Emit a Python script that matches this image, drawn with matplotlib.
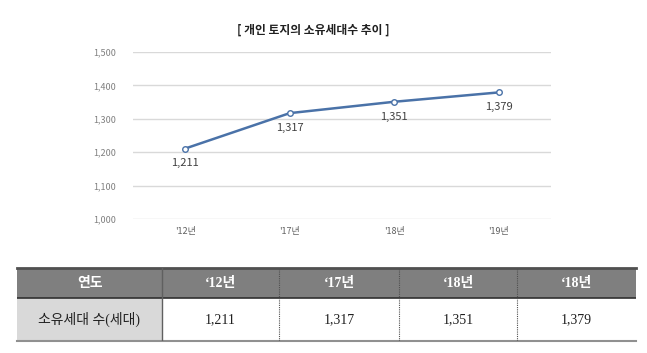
import matplotlib.pyplot as plt

plt.rcParams['font.family'] = ['Noto Sans CJK KR', 'DejaVu Sans']

# 데이터
years = ["'12년", "'17년", "'18년", "'19년"]
households = [1211, 1317, 1351, 1379]
yticks = [1000, 1100, 1200, 1300, 1400, 1500]

table_header = ["연도", "‘12년", "‘17년", "‘18년", "‘18년"]
table_row = ["소유세대 수(세대)", "1,211", "1,317", "1,351", "1,379"]
col_widths = [145, 117, 120, 118, 119]

fig = plt.figure(figsize=(6.47, 3.53), dpi=100)

# 선 그래프
ax = fig.add_axes([133 / 647, 1 - 219 / 353, 418 / 647, 167 / 353])
x = range(len(years))
ax.plot(x, households, '-', color='#4a72a8', lw=1.8, marker='o', ms=4,
        mfc='white', mec='#4a72a8', mew=1, zorder=3)
for i, v in zip(x, households):
    ax.annotate(f"{v:,}", (i, v), xytext=(0, -7), textcoords='offset points',
                ha='center', va='top', fontsize=8, color='#404040')
ax.set_xlim(-0.5, len(years) - 0.5)
ax.set_ylim(1000, 1500)
ax.set_yticks(yticks)
ax.set_yticklabels([f"{t:,}" for t in yticks], fontsize=6.5, color='#808080')
ax.set_xticks(list(x))
ax.set_xticklabels(years, fontsize=6.5, color='#606060')
ax.tick_params(length=0, pad=12)
ax.tick_params(axis='x', pad=6)
ax.grid(axis='y', color='#d9d9d9', lw=1)
for s in ax.spines.values():
    s.set_visible(False)
ax.set_axisbelow(True)

fig.text(313 / 647, 1 - 30 / 353, "[ 개인 토지의 소유세대수 추이 ]", ha='center',
         va='center', fontsize=8.5, fontweight='bold', color='#202020')

# 표
tax = fig.add_axes([17 / 647, 1 - 341 / 353, 619 / 647, 73 / 353])
total = sum(col_widths)
tax.set_xlim(0, total)
tax.set_ylim(0, 73)
tax.axis('off')
tbl = tax.table(cellText=[table_header, table_row],
                colWidths=[w / total for w in col_widths],
                cellLoc='center', bbox=[0, 0, 1, 1])
tbl.auto_set_font_size(False)
for (r, c), cell in tbl.get_celld().items():
    cell.set_height(30 if r == 0 else 43)
    cell.set_linewidth(0)
    txt = cell.get_text()
    txt.set_fontfamily(['Liberation Serif', 'Noto Sans CJK KR'])
    txt.set_fontsize(10)
    if r == 0:
        cell.set_facecolor('#7f7f7f')
        txt.set_color('white')
        txt.set_fontweight('bold')
    else:
        cell.set_facecolor('#d9d9d9' if c == 0 else 'white')
        txt.set_color('#202020')

# 테두리
edges = [sum(col_widths[:i]) for i in range(1, len(col_widths))]
tax.plot([0, total], [73, 73], color='#505050', lw=2, clip_on=False, zorder=5)
tax.plot([0, total], [43, 43], color='#303030', lw=1.2, zorder=5)
tax.plot([0, total], [0, 0], color='#909090', lw=1.5, clip_on=False, zorder=5)
tax.plot([edges[0], edges[0]], [0, 73], color='#606060', lw=1, zorder=5)
for e in edges[1:]:
    tax.plot([e, e], [0, 73], color='#505050', lw=0.8, ls=(0, (1, 1)), zorder=5)

fig.savefig('out.png', dpi=100)
